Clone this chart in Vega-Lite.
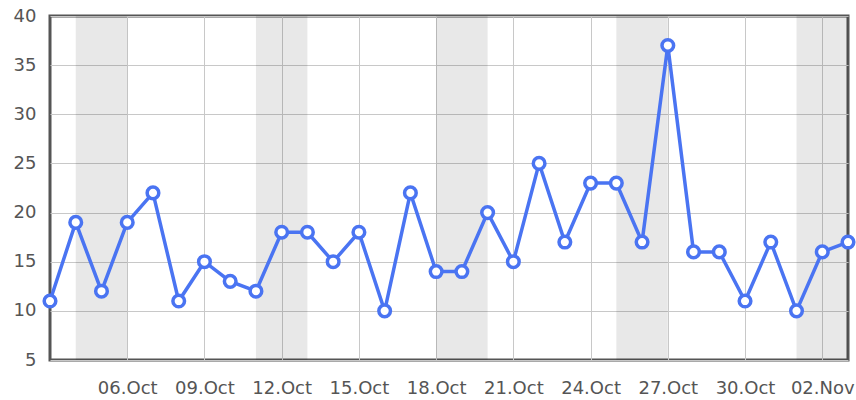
{
  "$schema": "https://vega.github.io/schema/vega-lite/v6.json",
  "width": 798,
  "height": 344,
  "autosize": "none",
  "padding": {"left": 50, "top": 16, "right": 8, "bottom": 40},
  "background": "white",
  "config": {
    "view": {"stroke": "#555555", "strokeWidth": 3},
    "axis": {"labelFont": "DejaVu Sans", "labelFontSize": 18, "labelColor": "#555555", "gridColor": "#c8c8c8", "gridWidth": 1, "domain": false, "ticks": false}
  },
  "datasets": {
    "series": [
      {"date": "2014-10-03", "value": 11},
      {"date": "2014-10-04", "value": 19},
      {"date": "2014-10-05", "value": 12},
      {"date": "2014-10-06", "value": 19},
      {"date": "2014-10-07", "value": 22},
      {"date": "2014-10-08", "value": 11},
      {"date": "2014-10-09", "value": 15},
      {"date": "2014-10-10", "value": 13},
      {"date": "2014-10-11", "value": 12},
      {"date": "2014-10-12", "value": 18},
      {"date": "2014-10-13", "value": 18},
      {"date": "2014-10-14", "value": 15},
      {"date": "2014-10-15", "value": 18},
      {"date": "2014-10-16", "value": 10},
      {"date": "2014-10-17", "value": 22},
      {"date": "2014-10-18", "value": 14},
      {"date": "2014-10-19", "value": 14},
      {"date": "2014-10-20", "value": 20},
      {"date": "2014-10-21", "value": 15},
      {"date": "2014-10-22", "value": 25},
      {"date": "2014-10-23", "value": 17},
      {"date": "2014-10-24", "value": 23},
      {"date": "2014-10-25", "value": 23},
      {"date": "2014-10-26", "value": 17},
      {"date": "2014-10-27", "value": 37},
      {"date": "2014-10-28", "value": 16},
      {"date": "2014-10-29", "value": 16},
      {"date": "2014-10-30", "value": 11},
      {"date": "2014-10-31", "value": 17},
      {"date": "2014-11-01", "value": 10},
      {"date": "2014-11-02", "value": 16},
      {"date": "2014-11-03", "value": 17}
    ],
    "weekends": [
      {"start": "2014-10-04", "end": "2014-10-06"},
      {"start": "2014-10-11", "end": "2014-10-13"},
      {"start": "2014-10-18", "end": "2014-10-20"},
      {"start": "2014-10-25", "end": "2014-10-27"},
      {"start": "2014-11-01", "end": "2014-11-03"}
    ]
  },
  "layer": [
    {
      "data": {"name": "weekends"},
      "mark": {"type": "rect", "color": "#000000", "opacity": 0.09},
      "encoding": {
        "x": {"field": "start", "type": "temporal", "title": null, "scale": {"type": "utc", "domain": [{"year": 2014, "month": 10, "date": 3, "utc": true}, {"year": 2014, "month": 11, "date": 3, "utc": true}]}},
        "x2": {"field": "end"}
      }
    },
    {
      "data": {"name": "series"},
      "encoding": {
        "x": {
          "field": "date", "type": "temporal", "title": null,
          "scale": {"type": "utc", "domain": [{"year": 2014, "month": 10, "date": 3, "utc": true}, {"year": 2014, "month": 11, "date": 3, "utc": true}]},
          "axis": {
            "format": "%d.%b", "labelPadding": 19, "labelFlush": false, "labelOverlap": false,
            "values": [
              {"year": 2014, "month": 10, "date": 6, "utc": true},
              {"year": 2014, "month": 10, "date": 9, "utc": true},
              {"year": 2014, "month": 10, "date": 12, "utc": true},
              {"year": 2014, "month": 10, "date": 15, "utc": true},
              {"year": 2014, "month": 10, "date": 18, "utc": true},
              {"year": 2014, "month": 10, "date": 21, "utc": true},
              {"year": 2014, "month": 10, "date": 24, "utc": true},
              {"year": 2014, "month": 10, "date": 27, "utc": true},
              {"year": 2014, "month": 10, "date": 30, "utc": true},
              {"year": 2014, "month": 11, "date": 2, "utc": true}
            ]
          }
        },
        "y": {
          "field": "value", "type": "quantitative", "title": null,
          "scale": {"domain": [5, 40], "nice": false, "zero": false},
          "axis": {"values": [5, 10, 15, 20, 25, 30, 35, 40], "labelPadding": 14}
        }
      },
      "layer": [
        {"mark": {"type": "line", "color": "#4a74f2", "strokeWidth": 3.5, "clip": false}},
        {"mark": {"type": "point", "filled": true, "fill": "white", "stroke": "#4a74f2", "strokeWidth": 3.5, "size": 135, "opacity": 1, "clip": false}}
      ]
    }
  ]
}
